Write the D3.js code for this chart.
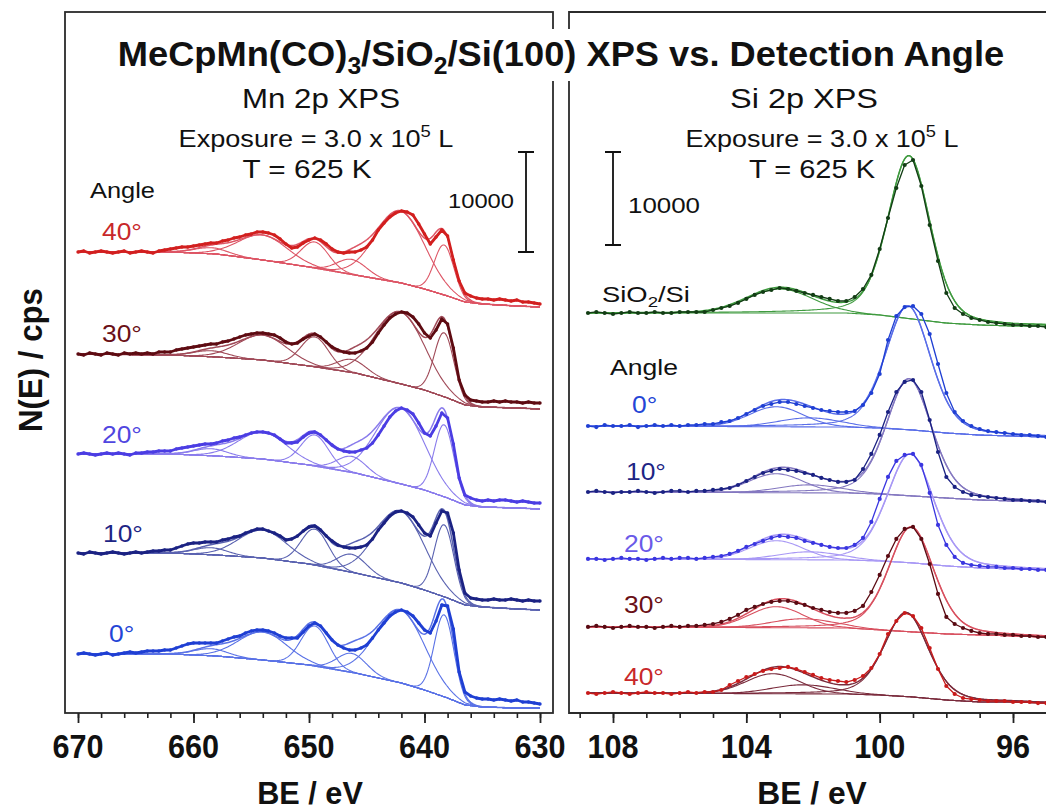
<!DOCTYPE html>
<html><head><meta charset="utf-8">
<script src="https://cdn.jsdelivr.net/npm/d3@7"></script>
<style>html,body{margin:0;padding:0;background:#fff;} svg{display:block;font-family:"Liberation Sans",Arial,Helvetica,sans-serif;}</style>
</head><body><svg id="c" width="1046" height="812"></svg>
<script>
// ---------------- DATA ----------------
// Mn 2p panel: binding energies (eV) of the sampled spectrum points
const mnEnergy = [670,669.5,669,668.5,668,667.5,667,666.5,666,665.5,665,664.5,664,663.5,663,662.5,662,661.5,661,660.5,660,659.5,659,658.5,658,657.5,657,656.5,656,655.5,655,654.5,654,653.5,653,652.5,652,651.5,651,650.5,650,649.5,649,648.5,648,647.5,647,646.5,646,645.5,645,644.5,644,643.5,643,642.5,642,641.5,641,640.5,640,639.5,639,638.5,638,637.5,637,636.5,636,635.5,635,634.5,634,633.5,633,632.5,632,631.5,631,630.5,630];
const mnAngles = ["40°","30°","20°","10°","0°"];
const mnOffsets = [46100, 35900, 25900, 16000, 5900];   // stacking offsets (counts)
// measured N(E), counts relative to each trace's offset
const mn40 = [0,100,-100,0,100,0,-100,0,100,-100, 0,100,0,-100,100,200,300,400,500,500, 600,700,800,900,900,1100,1200,1400,1500,1700, 1800,2000,2000,1900,1700,1300,800,400,500,900, 1200,1400,1200,800,300,0,-100,0,0,200, 500,1200,2200,2900,3500,3900,4100,4000,3700,2800, 1800,800,1500,2200,1600,-800,-2900,-4100,-4400,-4600, -4700,-4700,-4800,-4700,-4800,-4900,-4800,-5000,-5000,-5100,-5200];
const mn30 = [0,-100,100,0,-100,100,0,-100,100,0, 100,0,100,0,200,200,200,400,500,600, 700,800,900,1000,1000,1200,1300,1500,1700,1900, 2000,2100,2100,2000,1900,1600,1200,1000,1100,1500, 1800,2000,1700,1200,700,400,200,100,100,300, 600,1200,2100,2900,3600,4000,4200,4100,3700,3000, 2100,1600,2400,3500,3000,600,-2600,-4100,-4600,-4700, -4800,-4800,-4700,-4800,-4700,-4800,-4800,-4900,-4800,-4900,-4900];
const mn20 = [0,100,0,-100,0,100,0,100,0,-100, 100,100,200,200,300,300,300,500,600,700, 800,900,1000,1000,1100,1300,1400,1600,1700,1900, 2100,2200,2200,2100,1900,1500,1100,1100,1200,1700, 2100,2200,1900,1400,900,500,300,200,200,400, 600,1100,1900,2800,3700,4300,4600,4400,4000,3100, 2100,1800,2800,4100,3600,1000,-2400,-4100,-4400,-4600, -4700,-4600,-4700,-4600,-4600,-4700,-4800,-4700,-4800,-4900,-4900];
const mn10 = [0,-100,100,0,-100,0,100,0,-100,0, 100,0,100,200,200,300,300,500,700,900, 1000,1000,1100,1100,1100,1300,1400,1600,1700,2000, 2200,2400,2400,2200,2000,1700,1300,1400,1700,2200, 2600,2700,2300,1700,1200,800,600,500,500,600, 800,1400,2300,3000,3700,4100,4200,4000,3600,2800, 2000,1700,3000,4200,4000,2000,-1700,-4000,-4500,-4600, -4700,-4700,-4600,-4700,-4700,-4600,-4700,-4800,-4700,-4800,-4800];
const mn0 = [0,100,0,-100,0,100,-100,0,100,200, 100,200,300,300,300,400,400,600,800,1000, 1100,1100,1100,1100,1100,1300,1500,1700,1800,2100, 2300,2400,2400,2300,2100,1800,1600,1600,1600,2200, 2800,3100,2800,2100,1400,900,600,400,400,600, 900,1600,2400,3100,3800,4200,4400,4200,3800,3100, 2400,2100,3300,4900,4800,2500,-1800,-3800,-4200,-4400, -4500,-4500,-4600,-4500,-4600,-4700,-4600,-4800,-4800,-4900,-5000];
// Shirley-type background
const mnBgEnergy = [670,662,658,654,650,646,642,640,638,636.5,635,632,630];
const mnBg40 = [0,0,-200,-800,-1500,-2300,-3100,-3700,-4400,-5000,-5200,-5400,-5500];
const mnBg30 = [0,-100,-300,-600,-1200,-1900,-3000,-3600,-4400,-5100,-5300,-5400,-5500];
const mnBg20 = [0,0,-200,-500,-1100,-1900,-3000,-3600,-4400,-5100,-5300,-5400,-5500];
const mnBg10 = [0,0,-200,-500,-1100,-2000,-3000,-3700,-4500,-5200,-5400,-5600,-5700];
const mnBg0  = [0,0,-200,-600,-1100,-1900,-2900,-3600,-4400,-5100,-5300,-5400,-5400];
// fitted components: centre (eV), FWHM (eV), height (counts)
const mnPeakCenter = [658.5,654.0,649.5,646.3,642.1,638.3];
const mnPeakFwhm   = [3.5,5.0,2.8,3.0,5.0,2.0];
const mnH40 = [600,2500,2600,1500,7200,5000];
const mnH30 = [600,2500,3000,1300,7200,6400];
const mnH20 = [700,2700,3100,1600,7600,7200];
const mnH10 = [700,2800,3600,1800,7200,7200];
const mnH0  = [700,2800,4000,1900,7300,8200];
const mnTickLabels = [670,660,650,640,630];

// Si 2p panel
const siEnergy = [108.75,108.5,108.25,108,107.75,107.5,107.25,107,106.75,106.5,106.25,106,105.75,105.5,105.25,105,104.75,104.5,104.25,104,103.75,103.5,103.25,103,102.75,102.5,102.25,102,101.75,101.5,101.25,101,100.75,100.5,100.25,100,99.75,99.5,99.25,99,98.75,98.5,98.25,98,97.75,97.5,97.25,97,96.75,96.5,96.25,96,95.75,95.5,95.25,95];
const siLabels = ["SiO2/Si","0°","10°","20°","30°","40°"];
const siOffsets = [43000,30850,23760,16560,9250,2150];
const siRef = [0,110,0,-110,0,110,0,0,110,0,0,110,110,110,110,320,540,750,1080,1510,1940,2260,2470,2690,2580,2370,2150,1940,1720,1510,1290,1290,1720,2580,4090,6880,10210,13440,15910,16450,13650,9460,5590,2150,540,-110,-540,-750,-970,-1080,-1180,-1290,-1290,-1400,-1400,-1510];
const si0  = [0,-110,110,0,0,110,-110,0,110,0,110,0,110,110,220,220,430,540,860,1290,1720,2150,2370,2580,2580,2370,2150,1940,1720,1610,1510,1510,1610,2260,3550,5590,9250,11830,12790,12900,12040,9890,6670,3550,1510,540,0,-320,-540,-650,-750,-860,-970,-970,-1080,-1180];
const si10 = [0,110,0,-110,0,0,110,0,-110,0,110,110,0,110,110,220,320,430,750,1180,1610,2040,2260,2470,2370,2260,2040,1830,1510,1290,1080,1080,1290,2470,4090,6130,8600,10750,11830,12040,10750,7740,4300,1610,540,0,-320,-430,-540,-650,-750,-860,-860,-970,-970,-1080];
const si20 = [0,0,-110,0,110,0,0,-110,0,110,0,110,110,0,110,220,320,540,860,1290,1610,1940,2260,2470,2370,2260,1940,1720,1510,1290,1180,1180,1510,2260,3980,6450,8820,10540,11180,11290,10110,7100,3660,1510,220,-430,-650,-750,-860,-860,-970,-970,-1080,-1080,-1180,-1180];
const si30 = [0,110,0,-110,0,110,0,0,-110,0,110,0,110,110,220,320,540,860,1290,1830,2150,2470,2690,2800,2800,2580,2370,2040,1830,1610,1510,1510,1720,2260,3760,5590,7630,9460,10540,10750,9460,6770,3550,1080,320,-110,-430,-650,-750,-750,-860,-860,-970,-970,-1080,-1080];
const si40 = [0,-110,0,110,0,-110,0,110,0,0,-110,0,110,0,110,110,320,860,1290,1720,2040,2370,2580,2690,2800,2580,2260,1940,1610,1400,1290,1180,1400,1830,2690,4190,6340,7740,8600,8280,6990,4840,2580,750,-110,-540,-650,-750,-860,-860,-860,-970,-970,-970,-1080,-1080];
const siBgEnergy = [108.75,101,100,99,98,97,96,95];
const siBgRef = [0,0,-220,-650,-1080,-1290,-1400,-1400];
const siBg0   = [0,-110,-220,-430,-750,-970,-1080,-1180];
const siBg10  = [0,-110,-220,-430,-650,-860,-970,-1080];
const siBg20  = [0,-110,-220,-430,-750,-970,-1080,-1180];
const siBg30  = [0,-110,-320,-540,-750,-860,-970,-1080];
const siBg40  = [0,-110,-220,-430,-750,-970,-970,-1080];
// components: [centre eV, height counts, FWHM eV, Lorentzian fraction]
const siPeaksRef = [[103.0,2580,2.3,0],[99.12,17520,1.5,0.3]];
const siPeaks0   = [[103.1,2150,1.9,0],[102.1,970,2.2,0],[99.15,13330,1.6,0.3]];
const siPeaks10  = [[103.1,2040,1.9,0],[102.1,860,2.2,0],[99.12,12580,1.6,0.3]];
const siPeaks20  = [[103.1,2040,1.9,0],[102.1,860,2.2,0],[99.08,11720,1.65,0.3]];
const siPeaks30  = [[103.1,2260,1.9,0],[102.3,970,2.2,0],[99.05,11290,1.6,0.3]];
const siPeaks40  = [[103.2,2150,1.9,0],[102.3,970,2.2,0],[99.2,9030,1.55,0.3]];
const siTickLabels = [108,104,100,96];
const scaleBarCounts = 10000;

// ---------------- STYLE ----------------
const mnDataColor = ["#d21f1f","#5e0b12","#4b3de3","#1b2283","#1f3fd3"];
const mnFitColor  = ["#dd5565","#a04a58","#8a7cec","#5a62b0","#5a72e6"];
const mnLabelColor= ["#c8282a","#6a1016","#5046e0","#1d2585","#2445d6"];
const siDataColor = ["#123d14","#1f3fd3","#1b2283","#3a36e0","#5a0a12","#c81a1a"];
const siFitColor  = ["#3f9a3f","#5a6ee8","#8478c0","#a898f5","#d8505f","#7a2b3c"];
const siLabelColor= ["#111","#2445d6","#1d2585","#6a5ae8","#6a1016","#c8282a"];

// ---------------- CHART ----------------
const svg = d3.select("#c");
const defs = svg.append("defs");
defs.append("clipPath").attr("id","clipL").append("rect").attr("x",66).attr("y",13).attr("width",486).attr("height",699);
defs.append("clipPath").attr("id","clipR").append("rect").attr("x",570).attr("y",13).attr("width",476).attr("height",699);

const xL = d3.scaleLinear().domain([670,630]).range([78,540]);
const yL = d3.scaleLinear().domain([0,70100]).range([713,12]);
const xR = d3.scaleLinear().domain([108,96]).range([613,1013]);
const yR = d3.scaleLinear().domain([0,75357.5]).range([713,12]);

function gauss(e,c,w){const s=w/2.3548;return Math.exp(-((e-c)*(e-c))/(2*s*s));}
function pvoigt(e,c,w,eta){const hw=w/2;const l=1/(1+((e-c)/hw)*((e-c)/hw));return (1-eta)*gauss(e,c,w)+eta*l;}

function drawSpec(g,xs,ys,o){
  const bg = d3.scaleLinear().domain(o.bgE).range(o.bgV).clamp(true);
  const fine = d3.range(o.E[0], o.E[o.E.length-1]-1e-6, -o.step);
  const line = d3.line().x(d=>xs(d[0])).y(d=>ys(o.off+d[1]));
  const shape = (e,p)=>pvoigt(e,p[0],p[2],p[3]);
  g.append("path").datum(fine.map(e=>[e,bg(e)])).attr("d",line).attr("fill","none").attr("stroke",o.fit).attr("stroke-width",1.1);
  o.peaks.forEach(p=>{
    g.append("path").datum(fine.map(e=>[e,bg(e)+p[1]*shape(e,p)])).attr("d",line).attr("fill","none").attr("stroke",o.fit).attr("stroke-width",1.1);
  });
  g.append("path").datum(fine.map(e=>[e,bg(e)+d3.sum(o.peaks,p=>p[1]*shape(e,p))])).attr("d",line).attr("fill","none").attr("stroke",o.fit).attr("stroke-width",1.5);
  const pts = o.E.map((e,i)=>[e,o.vals[i]]);
  g.append("path").datum(pts).attr("d",line).attr("fill","none").attr("stroke",o.data).attr("stroke-width",o.dataW).attr("stroke-linejoin","round");
  g.append("g").selectAll("circle").data(pts).join("circle").attr("cx",d=>xs(d[0])).attr("cy",d=>ys(o.off+d[1])).attr("r",o.dotR).attr("fill",o.data);
}

function txt(parent,o){
  const g = parent.append("g").attr("transform",`translate(${o.x},${o.y})`+(o.rot?` rotate(${o.rot})`:""));
  const t = g.append("text").attr("text-anchor",o.anchor||"middle").attr("font-size",o.size).attr("font-weight",o.weight||"normal").attr("fill",o.fill||"#111");
  let shift=0;
  (o.parts||[{t:o.text}]).forEach(p=>{
    const s=t.append("tspan").text(p.t);
    let dy=-shift; shift=0;
    if(p.sub){s.attr("font-size",o.size*0.68);shift=o.size*0.24;dy+=shift;}
    if(p.sup){s.attr("font-size",o.size*0.68);shift=-o.size*0.4;dy+=shift;}
    if(dy) s.attr("dy",dy);
  });
  if(o.w){const bw=t.node().getBBox().width;t.attr("transform",`scale(${o.w/bw},1)`);}
  else if(o.sx){t.attr("transform",`scale(${o.sx},1)`);}
  return t;
}

// frames
svg.append("rect").attr("x",65).attr("y",12).attr("width",488).attr("height",701).attr("fill","none").attr("stroke","#2b2b2b").attr("stroke-width",1.8);
svg.append("path").attr("d","M1047,12H569V713H1047").attr("fill","none").attr("stroke","#2b2b2b").attr("stroke-width",1.8);

// spectra
const gL = svg.append("g").attr("clip-path","url(#clipL)");
const mnSets = [[mn40,mnBg40,mnH40],[mn30,mnBg30,mnH30],[mn20,mnBg20,mnH20],[mn10,mnBg10,mnH10],[mn0,mnBg0,mnH0]];
mnSets.forEach((s,i)=>{
  drawSpec(gL,xL,yL,{E:mnEnergy,vals:s[0],off:mnOffsets[i],bgE:mnBgEnergy,bgV:s[1],
    peaks:mnPeakCenter.map((c,k)=>[c,s[2][k],mnPeakFwhm[k],0]),step:0.1,
    fit:mnFitColor[i],data:mnDataColor[i],dataW:2.8,dotR:1.7});
});
const gR = svg.append("g").attr("clip-path","url(#clipR)");
const siSets = [[siRef,siBgRef,siPeaksRef],[si0,siBg0,siPeaks0],[si10,siBg10,siPeaks10],[si20,siBg20,siPeaks20],[si30,siBg30,siPeaks30],[si40,siBg40,siPeaks40]];
siSets.forEach((s,i)=>{
  drawSpec(gR,xR,yR,{E:siEnergy,vals:s[0],off:siOffsets[i],bgE:siBgEnergy,bgV:s[1],peaks:s[2],step:0.05,
    fit:siFitColor[i],data:siDataColor[i],dataW:1.3,dotR:2.1});
});

// axes
function axes(xs,minor,major,labels,sx){
  svg.append("g").attr("transform","translate(0,713)").call(d3.axisBottom(xs).tickValues(minor).tickSize(5).tickSizeOuter(0).tickFormat(""))
    .call(g=>{g.select(".domain").remove();g.selectAll("line").attr("stroke","#222").attr("stroke-width",1.6);});
  svg.append("g").attr("transform","translate(0,713)").call(d3.axisBottom(xs).tickValues(major).tickSize(10).tickSizeOuter(0).tickFormat(""))
    .call(g=>{g.select(".domain").remove();g.selectAll("line").attr("stroke","#222").attr("stroke-width",1.8);});
  labels.forEach(v=>txt(svg,{x:xs(v),y:758,size:34,weight:"bold",text:String(v),sx:sx}));
}
axes(xL,d3.range(630,671,2),d3.range(630,671,10),mnTickLabels,0.9);
axes(xR,d3.range(95,110,1),siTickLabels,siTickLabels,0.9);

// scale bars
function scaleBar(x,ys,base){
  const y0=ys(base),y1=ys(base+scaleBarCounts);
  svg.append("path").attr("d",`M${x},${y0}V${y1}M${x-8},${y0}H${x+8}M${x-8},${y1}H${x+8}`).attr("stroke","#111").attr("stroke-width",1.8).attr("fill","none");
}
scaleBar(526,yL,46100);
scaleBar(613,yR,50310);
txt(svg,{x:514,y:208,anchor:"end",size:21,text:"10000",w:66});
txt(svg,{x:628,y:213,anchor:"start",size:22,text:"10000",w:72});

// title with white box
svg.append("rect").attr("x",106).attr("y",29).attr("width",912).attr("height",52).attr("fill","#fff");
txt(svg,{x:561,y:66,size:35,weight:"bold",w:887,parts:[{t:"MeCpMn(CO)"},{t:"3",sub:true},{t:"/SiO"},{t:"2",sub:true},{t:"/Si(100) XPS vs. Detection Angle"}]});

txt(svg,{x:321,y:108,size:28,text:"Mn 2p XPS",w:158});
txt(svg,{x:804,y:108,size:28,text:"Si 2p XPS",w:148});
txt(svg,{x:316,y:147,size:24,w:275,parts:[{t:"Exposure = 3.0 x 10"},{t:"5",sup:true},{t:" L"}]});
txt(svg,{x:822,y:147,size:24,w:273,parts:[{t:"Exposure = 3.0 x 10"},{t:"5",sup:true},{t:" L"}]});
txt(svg,{x:307,y:178,size:26,text:"T = 625 K",w:130});
txt(svg,{x:812,y:178,size:26,text:"T = 625 K",w:127});
txt(svg,{x:90,y:198,anchor:"start",size:22,text:"Angle",w:65});
txt(svg,{x:610,y:375,anchor:"start",size:22,text:"Angle",w:68});
txt(svg,{x:602,y:302,anchor:"start",size:22,w:88,parts:[{t:"SiO"},{t:"2",sub:true},{t:"/Si"}]});

const mnLabelPos = [[102,240],[102,342],[102,443],[103,542],[109,642]];
mnAngles.forEach((a,i)=>txt(svg,{x:mnLabelPos[i][0],y:mnLabelPos[i][1],anchor:"start",size:24,text:a,sx:1.1,fill:mnLabelColor[i]}));
const siLabelPos = [null,[632,413],[626,480],[624,552],[624,613],[624,685]];
siLabels.forEach((a,i)=>{ if(i>0) txt(svg,{x:siLabelPos[i][0],y:siLabelPos[i][1],anchor:"start",size:24,text:a,sx:1.1,fill:siLabelColor[i]}); });

// axis titles
txt(svg,{x:42,y:360,rot:-90,size:34,weight:"bold",text:"N(E) / cps",w:144});
txt(svg,{x:310,y:804,size:31,weight:"bold",text:"BE / eV",w:106});
txt(svg,{x:812,y:804,size:31,weight:"bold",text:"BE / eV",w:110});
</script></body></html>
